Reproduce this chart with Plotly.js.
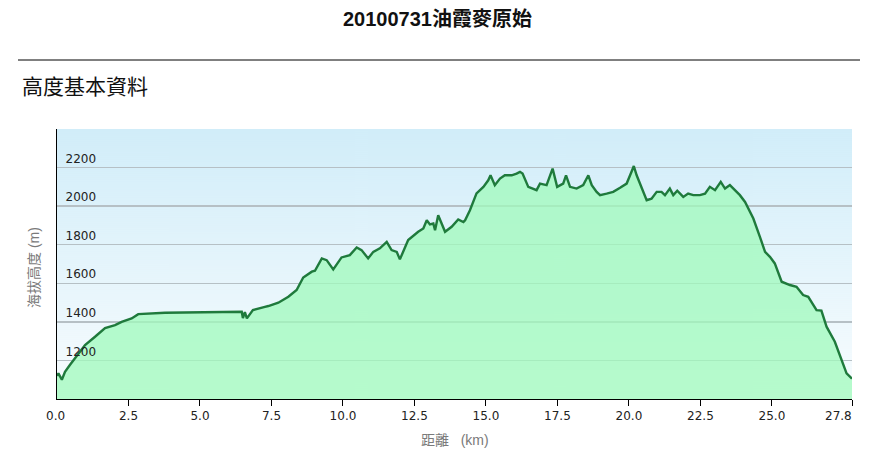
<!DOCTYPE html>
<html>
<head>
<meta charset="utf-8">
<script src="https://cdn.plot.ly/plotly-3.0.1.min.js"></script>
<style>html,body{margin:0;padding:0;background:#fff;}#chart{width:875px;height:468px;}</style>
</head>
<body>
<div id="chart"></div>
<script>
// Distance along the route (km)
const distanceKm = [
  0.00, 0.05, 0.17, 0.28, 0.45, 0.63, 0.98, 1.33, 1.68, 2.03, 2.26, 2.61, 2.84, 3.78, 5.00, 6.46, 6.50, 6.57, 6.64, 6.85,
  7.27, 7.39, 7.74, 8.09, 8.38, 8.61, 8.91, 9.02, 9.26, 9.43, 9.66, 9.95, 10.24, 10.48, 10.65, 10.88, 11.06, 11.29, 11.53, 11.70,
  11.88, 11.99, 12.28, 12.63, 12.81, 12.93, 13.04, 13.16, 13.22, 13.33, 13.57, 13.80, 14.03, 14.21, 14.27,
  14.44, 14.67, 14.91, 15.08, 15.16, 15.31, 15.49, 15.66, 15.90, 16.07, 16.19, 16.28, 16.48, 16.77, 16.89, 17.12, 17.33, 17.49, 17.70, 17.80,
  17.94, 18.17, 18.40, 18.58, 18.70, 18.87, 18.99, 19.22, 19.45, 19.69, 19.92, 20.09, 20.17, 20.27, 20.44, 20.62, 20.79, 20.97, 21.14, 21.26,
  21.43, 21.55, 21.69, 21.90, 22.07, 22.25, 22.48, 22.66, 22.83, 23.01, 23.21, 23.36, 23.53, 23.71, 23.88, 24.06, 24.17,
  24.35, 24.58, 24.76, 24.93, 25.10, 25.34, 25.63, 25.86, 26.09, 26.27, 26.56, 26.73, 26.91, 27.20, 27.44, 27.61,
  27.79, 27.80
];
// Elevation above sea level (m)
const elevationM = [
  1120, 1133, 1100, 1141, 1176, 1212, 1280, 1323, 1368, 1383, 1400, 1418, 1440, 1447, 1450, 1452, 1420, 1450, 1418, 1461,
  1478, 1482, 1499, 1530, 1565, 1630, 1660, 1665, 1729, 1720, 1672, 1734, 1746, 1786, 1772, 1729, 1763, 1781, 1815, 1772,
  1763, 1724, 1824, 1867, 1884, 1927, 1905, 1910, 1875, 1953, 1867, 1893, 1931, 1918, 1927,
  1979, 2066, 2100, 2134, 2160, 2109, 2143, 2160, 2160, 2169, 2178, 2169, 2100, 2083, 2117, 2109, 2195, 2100, 2117, 2160,
  2100, 2091, 2109, 2160, 2109, 2074, 2057, 2065, 2074, 2095, 2117, 2178, 2208, 2160, 2100, 2031, 2039, 2074, 2074, 2057,
  2091, 2057, 2080, 2048, 2065, 2057, 2057, 2065, 2100, 2083, 2126, 2091, 2109, 2083, 2057, 2022, 1988,
  1936, 1841, 1763, 1737, 1703, 1608, 1591, 1582, 1539, 1530, 1461, 1458, 1375, 1297, 1202, 1133,
  1107, 1105
];
const xTickVals = [0, 2.5, 5, 7.5, 10, 12.5, 15, 17.5, 20, 22.5, 25, 27.8];
const xTickText = ['0.0', '2.5', '5.0', '7.5', '10.0', '12.5', '15.0', '17.5', '20.0', '22.5', '25.0', '27.8'];
const yTickVals = [1200, 1400, 1600, 1800, 2000, 2200];
const yTickText = ['1200', '1400', '1600', '1800', '2000', '2200'];
const chartTitle = '20100731油霞麥原始';
const sectionHeading = '高度基本資料';
const xTitle = '距離\u00a0\u00a0\u00a0(km)';
const yTitle = '海拔高度 (m)';

// background gradient for the plotting area
function gradientURL() {
  const c = document.createElement('canvas');
  c.width = 4; c.height = 270;
  const ctx = c.getContext('2d');
  const g = ctx.createLinearGradient(0, 0, 0, 270);
  g.addColorStop(0, 'rgb(209,237,249)');
  g.addColorStop(1, 'rgb(248,252,254)');
  ctx.fillStyle = g;
  ctx.fillRect(0, 0, 4, 270);
  return c.toDataURL('image/png');
}

const lastIdx = xTickText.length - 1;
// end labels are drawn as annotations so they are not hidden at the axis ends
const axisTickText = xTickText.map((t, i) => (i === 0 || i === lastIdx) ? '' : t);
const tickFont = {family: '"DejaVu Sans", Verdana, sans-serif', size: 12, color: '#222'};
const tickLabelY = (399 - 416) / 270;

const trace = {
  x: distanceKm,
  y: elevationM,
  type: 'scatter',
  mode: 'lines',
  fill: 'tozeroy',
  fillcolor: 'rgba(160,250,188,0.76)',
  line: {color: '#1f7a3c', width: 2.4},
  hoverinfo: 'x+y'
};

const cjk = '"Liberation Sans", Arial, "Noto Sans CJK TC", sans-serif';

const layout = {
  width: 875,
  height: 468,
  margin: {l: 57, r: 23, t: 129, b: 69, pad: 0},
  paper_bgcolor: '#ffffff',
  plot_bgcolor: 'rgba(0,0,0,0)',
  showlegend: false,
  title: {
    text: '<b>' + chartTitle + '</b>',
    font: {family: cjk, size: 20, color: '#111'},
    x: 0.5, xref: 'container', xanchor: 'center',
    y: 1 - 19 / 468, yref: 'container', yanchor: 'middle'
  },
  xaxis: {
    range: [0, 27.8],
    tickmode: 'array',
    tickvals: xTickVals,
    ticktext: axisTickText,
    ticks: 'outside',
    ticklen: 6,
    tickwidth: 1,
    tickcolor: '#000',
    showline: true,
    linecolor: '#000',
    linewidth: 1,
    showgrid: false,
    zeroline: false,
    tickfont: tickFont,
    fixedrange: true
  },
  yaxis: {
    range: [1000, 2400],
    tickmode: 'array',
    tickvals: yTickVals,
    ticktext: yTickText,
    ticks: '',
    ticklabelposition: 'inside',
    ticklabelshift: -9,
    ticklabelstandoff: 8,
    showline: true,
    linecolor: '#000',
    linewidth: 1,
    showgrid: true,
    gridcolor: '#b6c0c5',
    gridwidth: 1.5,
    zeroline: false,
    tickfont: tickFont,
    fixedrange: true
  },
  images: [{
    source: gradientURL(),
    xref: 'paper', yref: 'paper',
    x: 0, y: 1, sizex: 1, sizey: 1,
    xanchor: 'left', yanchor: 'top',
    sizing: 'stretch', layer: 'below'
  }],
  shapes: [{
    type: 'line', xref: 'paper', yref: 'paper',
    x0: (18 - 57) / 795, x1: (860 - 57) / 795,
    y0: (399 - 60) / 270, y1: (399 - 60) / 270,
    line: {color: '#000', width: 1}
  }],
  annotations: [
    {
      text: xTickText[0], xref: 'x', yref: 'paper',
      x: xTickVals[0], y: tickLabelY, xshift: -2,
      xanchor: 'center', yanchor: 'middle', showarrow: false, font: tickFont
    },
    {
      text: xTickText[lastIdx], xref: 'x', yref: 'paper',
      x: xTickVals[lastIdx], y: tickLabelY, xshift: 2,
      xanchor: 'right', yanchor: 'middle', showarrow: false, font: tickFont
    },
    {
      text: sectionHeading, xref: 'paper', yref: 'paper',
      x: (20 - 57) / 795, y: (399 - 85) / 270,
      xanchor: 'left', yanchor: 'middle', showarrow: false,
      font: {family: '"Noto Sans CJK TC", sans-serif', size: 21, color: '#111'}
    },
    {
      text: xTitle, xref: 'paper', yref: 'paper',
      x: 0.5, y: (399 - 440) / 270,
      xanchor: 'center', yanchor: 'middle', showarrow: false,
      font: {family: cjk, size: 14, color: '#7a7a7a'}
    },
    {
      text: yTitle, xref: 'paper', yref: 'paper',
      x: (34 - 57) / 795, y: (399 - 268) / 270,
      xanchor: 'center', yanchor: 'middle', showarrow: false, textangle: -90,
      font: {family: cjk, size: 14, color: '#7a7a7a'}
    }
  ]
};

Plotly.newPlot('chart', [trace], layout, {displayModeBar: false, staticPlot: true});
</script>
</body>
</html>
